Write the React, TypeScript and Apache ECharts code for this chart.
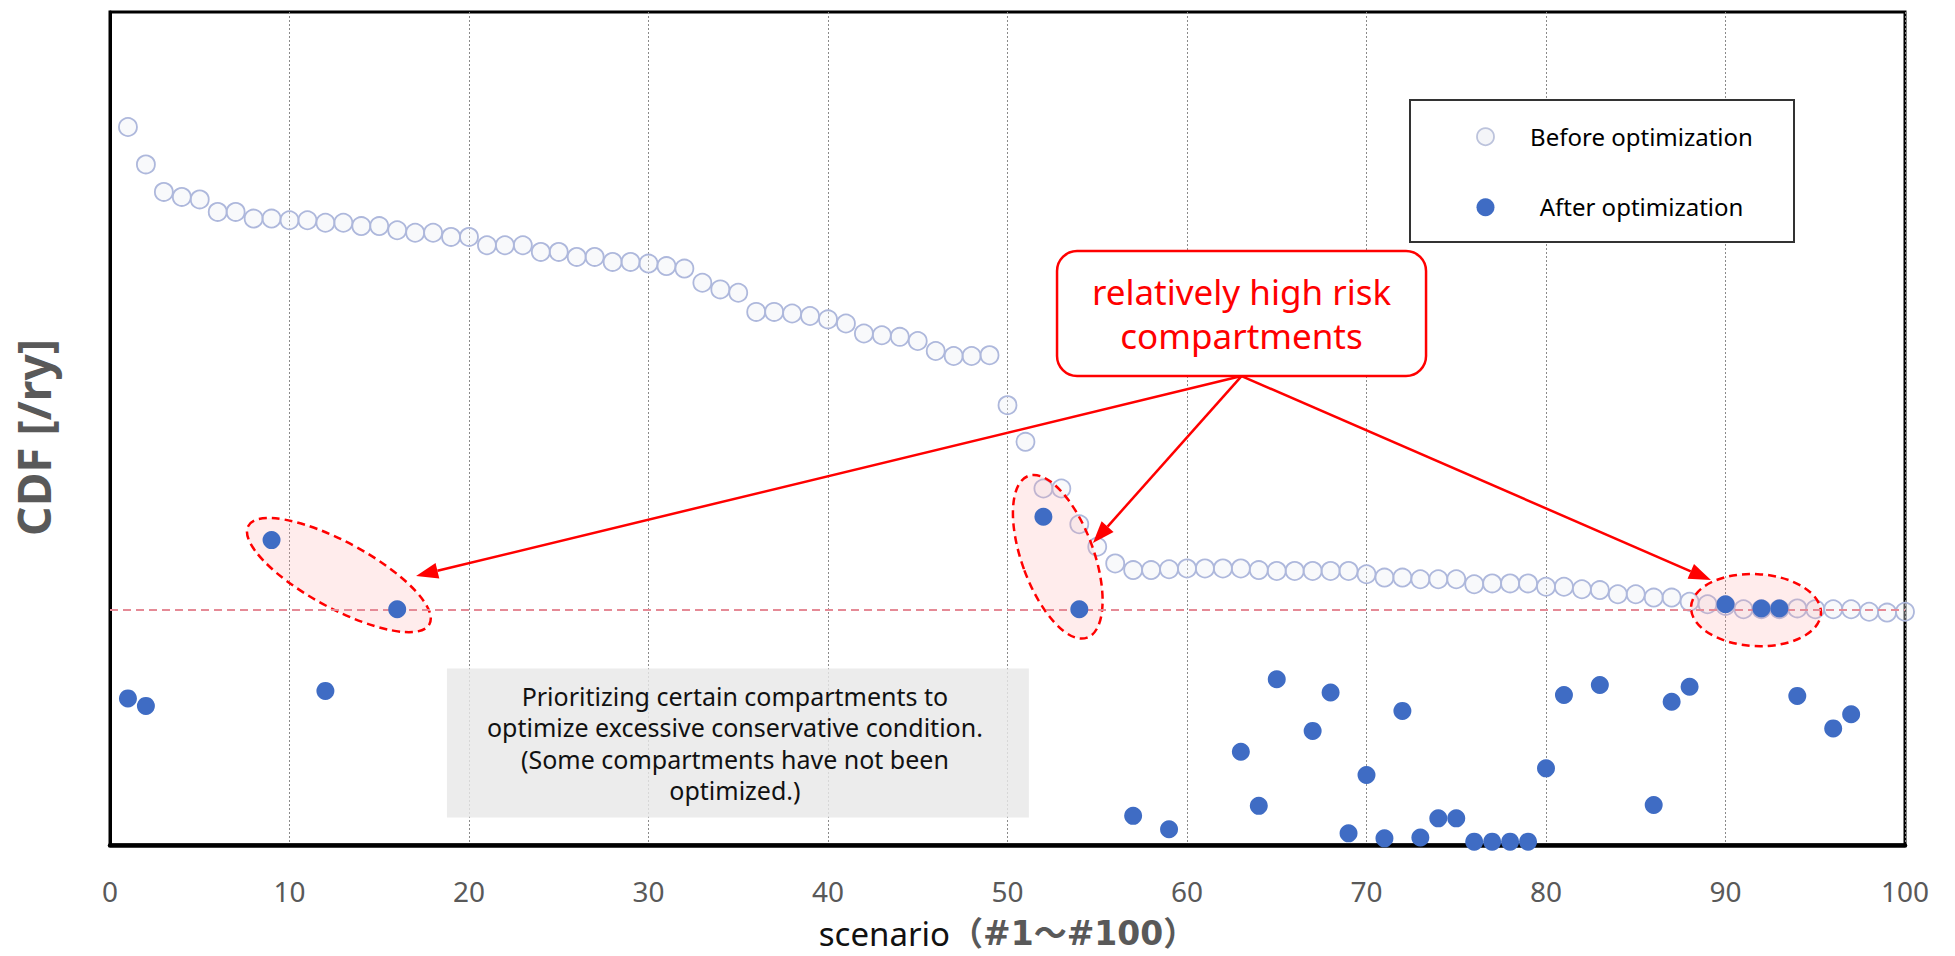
import React, { useEffect, useRef } from "react";
import * as echarts from "echarts";

// ---------------- data (y in relative CDF units, axis unlabeled) ----------------
const beforeCDF: number[] = [
  86.2, 81.7, 78.4, 77.8, 77.5, 76.0, 76.0, 75.2, 75.2, 75.0,
  75.0, 74.7, 74.7, 74.3, 74.3, 73.8, 73.5, 73.5, 73.0, 73.0,
  72.0, 72.0, 72.0, 71.2, 71.2, 70.6, 70.6, 70.0, 70.0, 69.8,
  69.5, 69.2, 67.5, 66.7, 66.3, 64.0, 64.0, 63.8, 63.5, 63.1,
  62.6, 61.4, 61.2, 61.0, 60.5, 59.3, 58.7, 58.7, 58.8, 52.8,
  48.4, 42.8, 42.8, 38.5, 35.8, 33.8, 33.0, 33.0, 33.1, 33.2,
  33.2, 33.2, 33.2, 33.0, 32.9, 32.9, 32.9, 32.9, 32.9, 32.5,
  32.1, 32.1, 31.9, 31.9, 31.9, 31.3, 31.4, 31.4, 31.4, 31.0,
  31.0, 30.7, 30.6, 30.1, 30.1, 29.7, 29.7, 29.2, 28.9, 28.7,
  28.3, 28.3, 28.3, 28.4, 28.3, 28.3, 28.3, 28.0, 27.9, 28.0,
];

const afterScenario: number[] = [
  1, 2, 9, 12, 16, 52, 54, 57, 59, 63, 64, 65, 67, 68, 69, 70, 71, 72, 73,
  74, 75, 76, 77, 78, 79, 80, 81, 83, 86, 87, 88, 90, 92, 93, 94, 96, 97,
];
const afterCDF: number[] = [
  17.6, 16.7, 36.6, 18.5, 28.3, 39.4, 28.3, 3.5, 1.9, 11.2, 4.7, 19.9, 13.7, 18.3, 1.4, 8.4, 0.8, 16.1, 0.9,
  3.2, 3.2, 0.4, 0.4, 0.4, 0.4, 9.2, 18.0, 19.2, 4.8, 17.2, 19.0, 28.9, 28.4, 28.4, 17.9, 14.0, 15.7,
];

const thresholdCDF = 28.2;

const seriesNames = ["Before optimization", "After optimization"];
const calloutLines = ["relatively high risk", "compartments"];
const noteLines = [
  "Prioritizing certain compartments to",
  "optimize excessive conservative condition.",
  "(Some compartments have not been",
  "optimized.)",
];

// annotation anchors in data coordinates (scenario, CDF)
const ellipseCenters: number[][] = [
  [12.75, 32.4],
  [52.8, 34.6],
  [91.7, 28.2],
];
const arrowTips: number[][] = [
  [17.05, 32.3],
  [54.76, 36.25],
  [89.19, 31.8],
];
const calloutTopLeft = [52.76, 71.3];
const noteTopLeft = [18.77, 21.2];

const FONT = "'Noto Sans', sans-serif";
const BLUE = "#3f6cc4";
const RED = "#ff0000";

export default function App() {
  const ref = useRef<HTMLDivElement>(null);

  useEffect(() => {
    if (!ref.current) return;
    const chart = echarts.init(ref.current, null, { renderer: "svg" });

    const beforeData = beforeCDF.map((v, i) => [i + 1, v]);
    const afterData = afterScenario.map((s, i) => [s, afterCDF[i]]);

    chart.setOption({
      animation: false,
      backgroundColor: "#ffffff",
      grid: {
        left: 110,
        right: 50,
        top: 12,
        bottom: 111,
        show: true,
        borderColor: "#000",
        borderWidth: 3,
        backgroundColor: "transparent",
      },
      xAxis: {
        type: "value",
        min: 0,
        max: 100,
        interval: 10,
        name: "{a|scenario}{b|（#1～#100）}",
        nameLocation: "middle",
        nameGap: 72,
        nameTextStyle: {
          rich: {
            a: { fontFamily: FONT, fontSize: 33, color: "#111", lineHeight: 33 },
            b: {
              fontFamily: "'DejaVu Sans', 'Noto Sans CJK JP', sans-serif",
              fontSize: 33,
              fontWeight: "bold",
              color: "#595959",
              lineHeight: 33,
            },
          },
        },
        axisLine: { show: true, lineStyle: { color: "#000", width: 4.5 } },
        axisTick: { show: false },
        axisLabel: { color: "#595959", fontSize: 28, fontFamily: FONT, margin: 32 },
        splitLine: { show: true, lineStyle: { color: "#8a8a8a", width: 1, type: [2, 2] } },
      },
      yAxis: {
        type: "value",
        min: 0,
        max: 100,
        name: "CDF [/ry]",
        nameLocation: "middle",
        nameGap: 54,
        nameRotate: 90,
        nameTextStyle: {
          fontFamily: FONT,
          fontSize: 46,
          fontWeight: "bold",
          color: "#595959",
          padding: [0, 18, 0, 0],
        },
        axisLine: { show: true, lineStyle: { color: "#000", width: 3 } },
        axisTick: { show: false },
        axisLabel: { show: false },
        splitLine: { show: false },
      },
      series: [
        {
          name: seriesNames[0],
          type: "scatter",
          data: beforeData,
          symbol: "circle",
          symbolSize: 18,
          z: 2,
          itemStyle: {
            color: "rgba(236,238,244,0.35)",
            borderColor: "#aeb8dc",
            borderWidth: 1.8,
            opacity: 1,
          },
          markLine: {
            silent: true,
            symbol: ["none", "none"],
            label: { show: false },
            lineStyle: { color: "#e58a96", width: 2, type: [8, 5], opacity: 1 },
            data: [{ yAxis: thresholdCDF }],
          },
        },
        {
          name: seriesNames[1],
          type: "scatter",
          data: afterData,
          symbol: "circle",
          symbolSize: 18,
          z: 6,
          itemStyle: { color: BLUE, opacity: 1 },
        },
      ],
    });

    const px = (p: number[]) => chart.convertToPixel({ gridIndex: 0 }, p) as number[];

    const graphics: any[] = [];

    // ellipses
    const ellipseShapes = [
      { rx: 103, ry: 33, rot: -28.5 },
      { rx: 36, ry: 86, rot: 20 },
      { rx: 65, ry: 36, rot: -3 },
    ];
    ellipseCenters.forEach((c, i) => {
      const p = px(c);
      const e = ellipseShapes[i];
      graphics.push({
        type: "ellipse",
        x: p[0],
        y: p[1],
        rotation: (e.rot * Math.PI) / 180,
        shape: { cx: 0, cy: 0, rx: e.rx, ry: e.ry },
        style: { fill: "rgba(255,170,170,0.22)", stroke: RED, lineWidth: 2.5, lineDash: [8, 5] },
        z: 4,
      });
    });

    // note box
    const nt = px(noteTopLeft);
    const noteW = 582;
    const noteH = 149;
    graphics.push({
      type: "rect",
      shape: { x: nt[0], y: nt[1], width: noteW, height: noteH },
      style: { fill: "rgba(232,232,232,0.82)" },
      z: 3,
    });
    graphics.push({
      type: "text",
      x: nt[0] + noteW / 2 - 3,
      y: nt[1] + noteH / 2,
      style: {
        text: noteLines.join("\n"),
        fontFamily: FONT,
        fontSize: 25,
        lineHeight: 31.5,
        fill: "#111",
        align: "center",
        verticalAlign: "middle",
      },
      z: 5,
    });

    // callout box + arrows
    const ct = px(calloutTopLeft);
    const cW = 369;
    const cH = 125;
    const origin = [ct[0] + cW / 2, ct[1] + cH];
    arrowTips.forEach((t) => {
      const tip = px(t);
      const dx = tip[0] - origin[0];
      const dy = tip[1] - origin[1];
      const len = Math.hypot(dx, dy);
      const ux = dx / len;
      const uy = dy / len;
      const headLen = 22;
      const headHalf = 8;
      const bx = tip[0] - ux * headLen;
      const by = tip[1] - uy * headLen;
      graphics.push({
        type: "line",
        shape: { x1: origin[0], y1: origin[1], x2: bx, y2: by },
        style: { stroke: RED, lineWidth: 2.5 },
        z: 20,
      });
      graphics.push({
        type: "polygon",
        shape: {
          points: [
            [tip[0], tip[1]],
            [bx - uy * headHalf, by + ux * headHalf],
            [bx + uy * headHalf, by - ux * headHalf],
          ],
        },
        style: { fill: RED },
        z: 20,
      });
    });
    graphics.push({
      type: "rect",
      shape: { x: ct[0], y: ct[1], width: cW, height: cH, r: 20 },
      style: { fill: "#fff", stroke: RED, lineWidth: 2.5 },
      z: 21,
    });
    graphics.push({
      type: "text",
      x: ct[0] + cW / 2,
      y: ct[1] + 40,
      style: {
        text: calloutLines[0],
        fontFamily: FONT,
        fontSize: 35,
        fill: RED,
        align: "center",
        verticalAlign: "middle",
      },
      z: 22,
    });
    graphics.push({
      type: "text",
      x: ct[0] + cW / 2,
      y: ct[1] + 84,
      style: {
        text: calloutLines[1],
        fontFamily: FONT,
        fontSize: 35,
        fill: RED,
        align: "center",
        verticalAlign: "middle",
      },
      z: 22,
    });

    // legend (pixel layout)
    const lx = 1410;
    const ly = 100;
    graphics.push({
      type: "rect",
      shape: { x: lx, y: ly, width: 384, height: 142 },
      style: { fill: "#fff", stroke: "#333", lineWidth: 2 },
      z: 30,
    });
    graphics.push({
      type: "circle",
      shape: { cx: lx + 75.5, cy: ly + 36.7, r: 8.5 },
      style: { fill: "#f4f5f8", stroke: "#bcc3dc", lineWidth: 1.8 },
      z: 31,
    });
    graphics.push({
      type: "circle",
      shape: { cx: lx + 75.5, cy: ly + 107.3, r: 9 },
      style: { fill: BLUE },
      z: 31,
    });
    graphics.push({
      type: "text",
      x: lx + 231.5,
      y: ly + 36,
      style: { text: seriesNames[0], fontFamily: FONT, fontSize: 24, fill: "#000", align: "center", verticalAlign: "middle" },
      z: 31,
    });
    graphics.push({
      type: "text",
      x: lx + 231.5,
      y: ly + 106,
      style: { text: seriesNames[1], fontFamily: FONT, fontSize: 24, fill: "#000", align: "center", verticalAlign: "middle" },
      z: 31,
    });

    chart.setOption({ graphic: graphics });

    return () => chart.dispose();
  }, []);

  return (
    <div
      ref={ref}
      style={{ position: "fixed", left: 0, top: 0, width: 1955, height: 956, background: "#fff" }}
    />
  );
}
